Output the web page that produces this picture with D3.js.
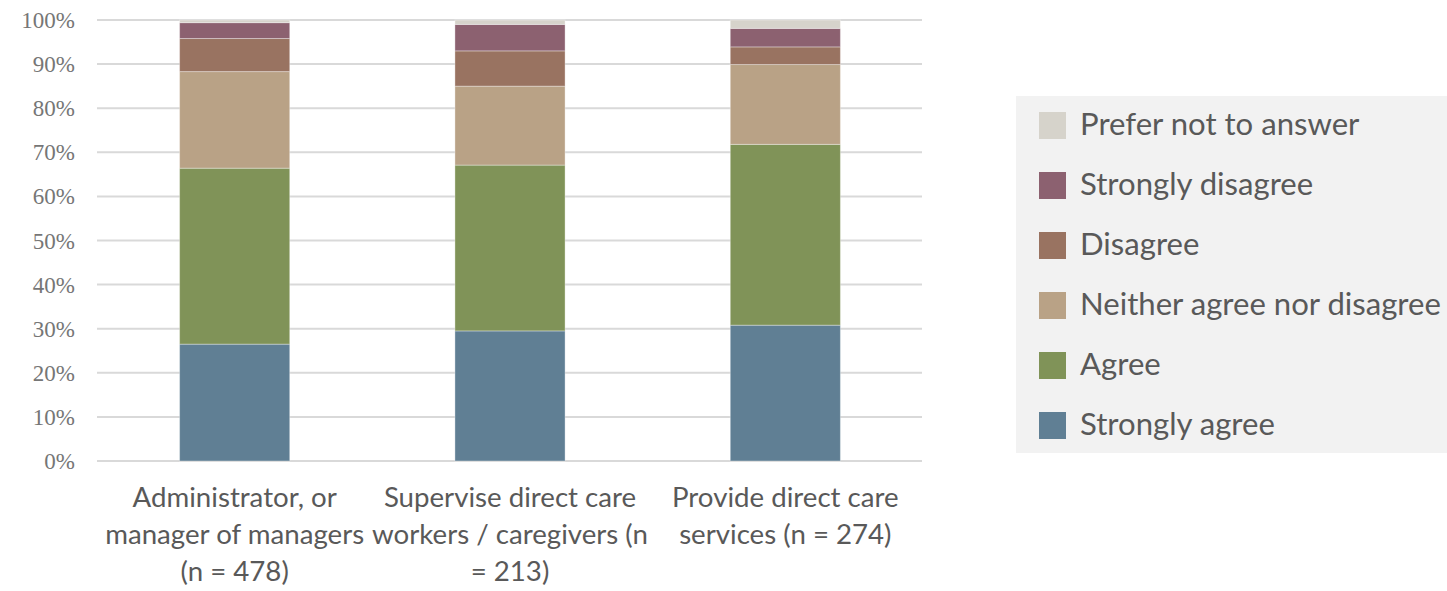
<!DOCTYPE html>
<html>
<head>
<meta charset="utf-8">
<script src="https://cdn.jsdelivr.net/npm/d3@7.9.0/dist/d3.min.js"></script>
<style>
  body { margin: 0; background: #fff; }
  svg { display: block; }
</style>
</head>
<body>
<svg id="chart" width="1447" height="591"></svg>
<script>
// categories (x axis), each label split into lines
const groups = ['admin', 'supervise', 'provide'];
const groupLabels = [
  ['Administrator, or', 'manager of managers', '(n = 478)'],
  ['Supervise direct care', 'workers / caregivers (n', '= 213)'],
  ['Provide direct care', 'services (n = 274)']
];

// series, bottom to top
const seriesNames = ['Strongly agree', 'Agree', 'Neither agree nor disagree', 'Disagree', 'Strongly disagree', 'Prefer not to answer'];
const seriesColors = ['#607f94', '#809358', '#b9a286', '#997361', '#8c6170', '#d6d3cb'];

// percentages per series, one value per group
const stronglyAgree = [26.5, 29.5, 30.8];
const agree = [39.9, 37.6, 41.0];
const neither = [21.9, 17.9, 18.1];
const disagree = [7.5, 8.0, 4.0];
const stronglyDisagree = [3.6, 6.0, 4.2];
const preferNot = [0.6, 1.0, 1.9];

const yTicks = [0, 10, 20, 30, 40, 50, 60, 70, 80, 90, 100];

const allSeries = [stronglyAgree, agree, neither, disagree, stronglyDisagree, preferNot];
const table = groups.map((g, i) => {
  let row = { group: g };
  seriesNames.forEach((s, j) => { row[s] = allSeries[j][i]; });
  return row;
});

const svg = d3.select('#chart');

const x = d3.scaleBand().domain(groups).range([97, 923]).paddingInner(0.6).paddingOuter(0.3);
const y = d3.scaleLinear().domain([0, 100]).range([461, 20]);

// grid lines
svg.append('g')
  .selectAll('line')
  .data(yTicks)
  .join('line')
  .attr('x1', 97)
  .attr('x2', 922)
  .attr('y1', d => y(d))
  .attr('y2', d => y(d))
  .attr('stroke', '#d9d9d9')
  .attr('stroke-width', 2);

// y tick labels
svg.append('g')
  .selectAll('text')
  .data(yTicks)
  .join('text')
  .attr('x', 75)
  .attr('y', d => y(d))
  .attr('dy', '0.35em')
  .attr('text-anchor', 'end')
  .attr('font-family', "'Liberation Serif', 'DejaVu Serif', serif")
  .attr('font-size', 23)
  .attr('fill', '#767676')
  .text(d => d + '%');

// stacked bars
const stacked = d3.stack().keys(seriesNames)(table);
svg.append('g')
  .selectAll('g')
  .data(stacked)
  .join('g')
  .attr('fill', (d, i) => seriesColors[i])
  .selectAll('rect')
  .data(d => d)
  .join('rect')
  .attr('x', d => x(d.data.group))
  .attr('width', x.bandwidth())
  .attr('y', d => y(d[1]))
  .attr('height', d => y(d[0]) - y(d[1]))
  .attr('stroke', '#ffffff')
  .attr('stroke-opacity', 0.35)
  .attr('stroke-width', 1);

const sansFont = "Lato, 'Open Sans', sans-serif";

// x labels
const xLab = svg.append('g')
  .selectAll('text')
  .data(groups)
  .join('text')
  .attr('text-anchor', 'middle')
  .attr('font-family', sansFont)
  .attr('font-size', 24)
  .attr('fill', '#595959');

xLab.each(function (g, i) {
  const t = d3.select(this);
  groupLabels[i].forEach((line, k) => {
    t.append('tspan')
      .attr('x', x(g) + x.bandwidth() / 2)
      .attr('y', 507 + k * 37)
      .text(line);
  });
});

// fit x label font so "manager of managers" is about 259px wide
const probe = svg.append('text').attr('font-family', sansFont).attr('font-size', 24).text('manager of managers');
const xFont = 24 * 259 / probe.node().getComputedTextLength();
probe.remove();
xLab.attr('font-size', xFont);

// legend
const legend = svg.append('g');
legend.append('rect')
  .attr('x', 1016)
  .attr('y', 96)
  .attr('width', 431)
  .attr('height', 357)
  .attr('fill', '#f2f2f2');

const legendOrder = seriesNames.slice().reverse();
const legendColors = seriesColors.slice().reverse();
const legendRows = legend.selectAll('g.row')
  .data(legendOrder)
  .join('g')
  .attr('class', 'row')
  .attr('transform', (d, i) => `translate(1039, ${112 + i * 60})`);

legendRows.append('rect')
  .attr('width', 27)
  .attr('height', 27)
  .attr('fill', (d, i) => legendColors[i]);

const legendText = legendRows.append('text')
  .attr('x', 41)
  .attr('y', 13.5)
  .attr('dy', '0.3em')
  .attr('font-family', sansFont)
  .attr('font-size', 28)
  .attr('fill', '#595959')
  .text(d => d);

// fit legend font so the longest entry is about 361px wide
const probe2 = svg.append('text').attr('font-family', sansFont).attr('font-size', 28).text('Neither agree nor disagree');
const lFont = 28 * 361 / probe2.node().getComputedTextLength();
probe2.remove();
legendText.attr('font-size', lFont);
</script>
</body>
</html>
